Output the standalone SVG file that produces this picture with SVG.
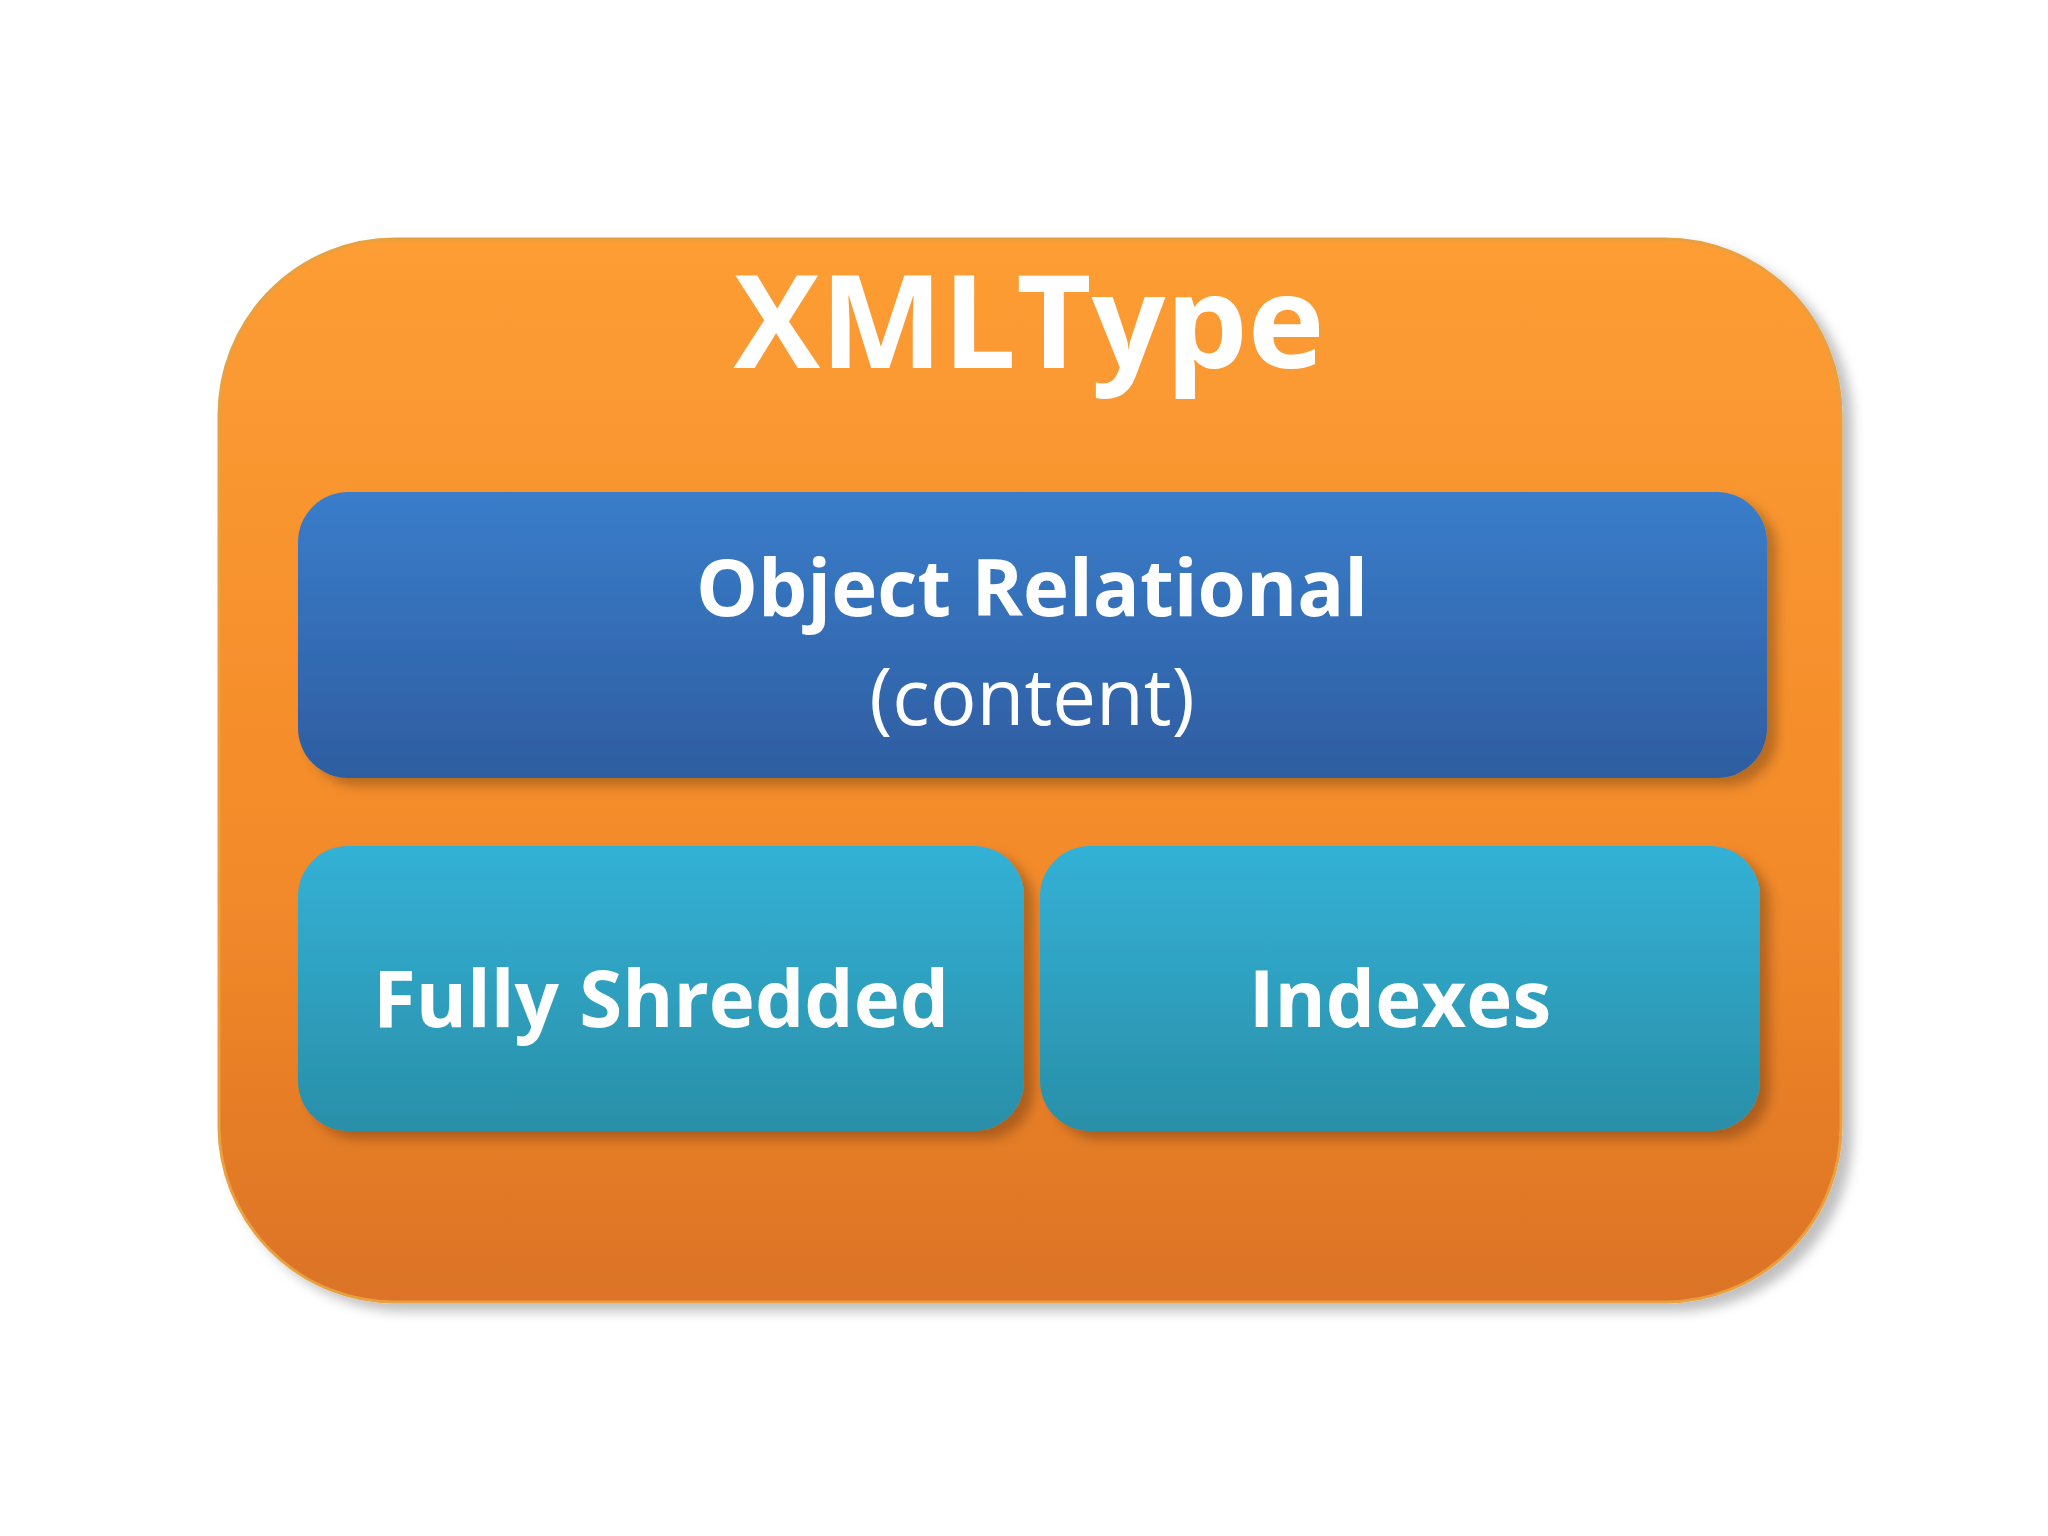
<svg xmlns="http://www.w3.org/2000/svg" width="2048" height="1536" viewBox="0 0 2048 1536">
<defs>
<linearGradient id="og" x1="0" y1="0" x2="0" y2="1"><stop offset="0" stop-color="#fd9d33"/><stop offset="0.6" stop-color="#f38a2a"/><stop offset="1" stop-color="#dc7325"/></linearGradient>
<linearGradient id="bg" x1="0" y1="0" x2="0" y2="1"><stop offset="0" stop-color="#3a7dcb"/><stop offset="1" stop-color="#2e5da0"/></linearGradient>
<linearGradient id="tg" x1="0" y1="0" x2="0" y2="1"><stop offset="0" stop-color="#33b1d6"/><stop offset="1" stop-color="#2a8fa8"/></linearGradient>
<filter id="sh" x="-10%" y="-10%" width="130%" height="130%"><feDropShadow dx="10" dy="8" stdDeviation="6" flood-color="#000" flood-opacity="0.25"/></filter>
<style>
text{font-family:"Open Sans","Liberation Sans",sans-serif;fill:#fff;text-anchor:middle}
.b{font-weight:bold}
</style>
</defs>
<rect width="2048" height="1536" fill="#fff"/>
<g id="xmltype">
<rect x="219" y="239" width="1622" height="1063" rx="176" fill="url(#og)" stroke="#e8a040" stroke-width="3" filter="url(#sh)"/>
<text x="1029" y="368" class="b" font-size="130">XMLType</text>
</g>
<g id="objrel">
<rect x="298" y="492" width="1469" height="286" rx="50" fill="url(#bg)" filter="url(#sh)"/>
<text x="1032" y="616" class="b" font-size="78">Object Relational</text>
<text x="1032" y="725" font-size="78">(content)</text>
</g>
<g id="shredded">
<rect x="298" y="846" width="726" height="285" rx="50" fill="url(#tg)" filter="url(#sh)"/>
<text x="661" y="1027" class="b" font-size="78">Fully Shredded</text>
</g>
<g id="indexes">
<rect x="1040" y="846" width="720" height="285" rx="50" fill="url(#tg)" filter="url(#sh)"/>
<text x="1400" y="1027" class="b" font-size="78">Indexes</text>
</g>
<g id="connectors"/>
</svg>
